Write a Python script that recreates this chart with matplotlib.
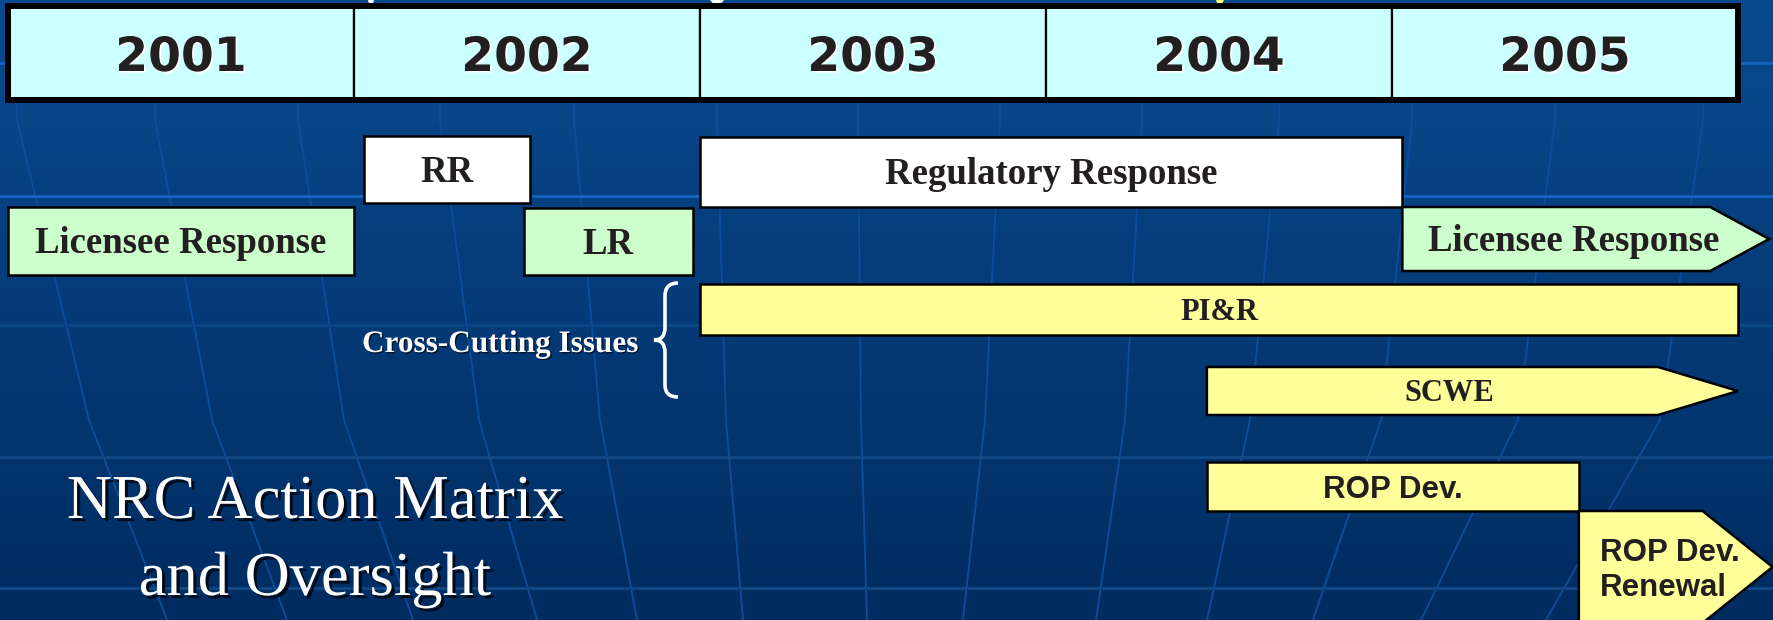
import numpy as np
import matplotlib
matplotlib.use("Agg")
import matplotlib.pyplot as plt
from matplotlib.patches import Polygon, Rectangle, PathPatch
from matplotlib.path import Path
import matplotlib.patheffects as pe

# timeline data
years = [2001, 2002, 2003, 2004, 2005]

bar_labels = ["Licensee Response", "RR", "LR", "Regulatory Response",
              "Licensee Response", "PI&R", "SCWE", "ROP Dev.", "ROP Dev.\nRenewal"]
bar_start = [2001.0, 2002.03, 2002.49, 2003.0, 2005.03, 2003.0, 2004.465, 2004.465, 2005.54]
bar_end = [2002.0, 2002.51, 2002.98, 2005.03, 2006.09, 2006.0, 2006.0, 2005.54, 2006.1]
bar_open = [False, False, False, False, True, False, True, False, True]

side_label = "Cross-Cutting Issues"
title_lines = ["NRC Action Matrix", "and Oversight"]

# layout, in pixels of the 1773x620 picture
W, H = 1773, 620
PX = 346.0   # pixels per year
X0 = 8       # pixel of 2001.0

row_top = [207, 136, 208, 137, 207, 284, 367, 462, 511]
row_bot = [275, 203, 275, 207, 271, 335, 415, 511, 623]
tip_px = [0, 0, 0, 0, 59, 0, 80, 0, 70]
fills = ["#ccffcc", "#ffffff", "#ccffcc", "#ffffff", "#ccffcc",
         "#ffff99", "#ffff99", "#ffff99", "#ffff99"]
SERIF = "Liberation Serif"
SANS = "Liberation Sans"
fonts = [SERIF] * 7 + [SANS] * 2
sizes = [26.5] * 5 + [22, 22, 22.5, 22.5]
INK = "#231f20"

# background grid (at y = 120, 420, 620)
grid_x120 = [17, 155, 298, 440, 574, 717, 858, 1000, 1142, 1279, 1412, 1555, 1703]
grid_x420 = [89, 212, 344, 479, 600, 726, 861, 985, 1125, 1250, 1381, 1518, 1660]
grid_x620 = [167, 287, 413, 537, 637, 743, 867, 963, 1096, 1207, 1313, 1421, 1546]
grid_y = [63, 196, 325, 457, 588]
grid_ycol = ["#1564c4", "#1564c4", "#0a4788", "#134886", "#134886"]


def baseline(yc, size, fam):
    em = size * 100 / 72.0
    cap = 0.662 if fam == SERIF else 0.716
    return yc + cap * em / 2


fig = plt.figure(figsize=(W / 100, H / 100), dpi=100)

bg = fig.add_axes([0, 0, 1, 1])
bg.set_xlim(0, W)
bg.set_ylim(H, 0)
bg.axis("off")

g = np.linspace(0, 1, H)[:, None, None]
top = np.array([10, 74, 144]) / 255.0
bot = np.array([0, 44, 96]) / 255.0
bg.imshow(top * (1 - g) + bot * g, extent=(0, W, H, 0), aspect="auto", zorder=0)

for a, b, c in zip(grid_x120, grid_x420, grid_x620):
    bg.plot([a, a, b, c], [0, 120, 420, 620], color="#0c4e9c", lw=1.3, zorder=1)
for y, c in zip(grid_y, grid_ycol):
    bg.axhline(y, color=c, lw=2.0, zorder=1)

# tips of arrows coming from above the frame
bg.add_patch(Polygon([(368, 0), (374, 0), (371, 11)], fc="white", ec="none", zorder=6))
bg.add_patch(Polygon([(710, 0), (724, 0), (717, 8)], fc="white", ec="none", zorder=6))
bg.add_patch(Polygon([(1216, 0), (1224, 0), (1219, 9)], fc="#ffff66", ec="none", zorder=6))

ax = fig.add_axes([0, 0, 1, 1])
ax.set_xlim(2001 - X0 / PX, 2001 + (W - X0) / PX)
ax.set_ylim(H, 0)
ax.axis("off")
ax.patch.set_alpha(0)

# year header
ax.bar([y + 0.5 for y in years], 94, bottom=6, width=1, color="#ccffff",
       edgecolor="black", linewidth=1.6, zorder=3)
ax.add_patch(Rectangle((years[0], 6), len(years), 94, fill=False, ec="black",
                       lw=4.3, joinstyle="miter", zorder=4))
for y in years:
    ax.text(y + 0.5, 71, str(y), ha="center", va="baseline", fontsize=34,
            fontweight="bold", family="DejaVu Sans", color=INK, zorder=5,
            path_effects=[pe.withSimplePatchShadow(offset=(1.2, -1.2),
                                                   shadow_rgbFace="white", alpha=1)])

# bars
for i, lab in enumerate(bar_labels):
    s, e = bar_start[i], bar_end[i]
    t, b = row_top[i], row_bot[i]
    if bar_open[i]:
        sh = e - tip_px[i] / PX
        pts = [(s, t), (sh, t), (e, (t + b) / 2), (sh, b), (s, b)]
    else:
        sh = e
        pts = [(s, t), (e, t), (e, b), (s, b)]
    ax.add_patch(Polygon(pts, closed=True, fc=fills[i], ec="black", lw=1.8,
                         joinstyle="miter", zorder=5))

    lines = lab.split("\n")
    if len(lines) > 1:
        for k, ln in enumerate(lines):
            yc = t + 39 + 35 * k
            ax.text(s + 21 / PX, baseline(yc, sizes[i], fonts[i]), ln, ha="left",
                    va="baseline", fontsize=sizes[i], fontweight="bold",
                    family=fonts[i], color=INK, zorder=6)
    else:
        xc = (s + sh) / 2 + (17 / PX if bar_open[i] else 0)
        ax.text(xc, baseline((t + b) / 2, sizes[i], fonts[i]), lab, ha="center",
                va="baseline", fontsize=sizes[i], fontweight="bold",
                family=fonts[i], color=INK, zorder=6)

# brace and cross-cutting label
verts = [(678, 283), (665, 283), (665, 296), (665, 328), (665, 340), (654, 340),
         (665, 340), (665, 352), (665, 385), (665, 397), (678, 397)]
codes = [Path.MOVETO, Path.CURVE3, Path.CURVE3, Path.LINETO, Path.CURVE3, Path.CURVE3,
         Path.CURVE3, Path.CURVE3, Path.LINETO, Path.CURVE3, Path.CURVE3]
bg.add_patch(PathPatch(Path(verts, codes), fc="none", ec="white", lw=2.6, zorder=6))

bg.text(500, 352, side_label, ha="center", va="baseline", fontsize=22.5,
        fontweight="bold", family=SERIF, color="white", zorder=6,
        path_effects=[pe.withSimplePatchShadow(offset=(1, -1), shadow_rgbFace="#001530", alpha=1)])

# slide title
for k, ln in enumerate(title_lines):
    bg.text(315, 518 + 77 * k, ln, ha="center", va="baseline", fontsize=45,
            family=SERIF, color="white", zorder=6,
            path_effects=[pe.withSimplePatchShadow(offset=(2.2, -2.2),
                                                   shadow_rgbFace="#000c1c", alpha=1)])

fig.savefig("out.png", dpi=100)
